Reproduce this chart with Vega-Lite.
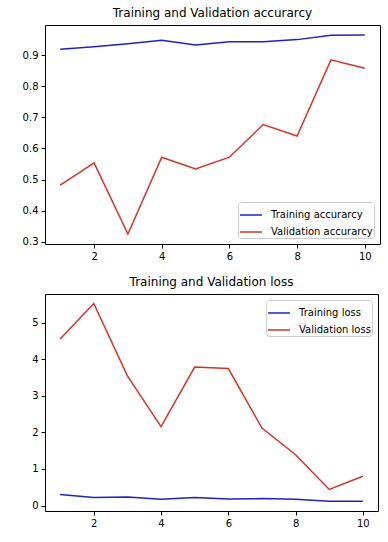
{
  "$schema": "https://vega.github.io/schema/vega-lite/v6.json",
  "background": "white",
  "padding": {"left": 21, "top": 6, "right": 8, "bottom": 4},
  "spacing": 13,
  "config": {
    "font": "DejaVu Sans",
    "view": {"stroke": "#000000", "strokeWidth": 1},
    "axis": {
      "grid": false, "domain": false, "tickColor": "#000", "tickSize": 4,
      "labelFont": "DejaVu Sans", "labelFontSize": 10, "labelColor": "#000",
      "labelPadding": 3, "title": null
    },
    "title": {"font": "DejaVu Sans", "fontSize": 12, "fontWeight": "normal", "color": "#000", "offset": 5},
    "legend": {
      "title": null, "labelFont": "DejaVu Sans", "labelFontSize": 10, "labelColor": "#000",
      "symbolType": "stroke", "symbolStrokeWidth": 1.5, "symbolSize": 484,
      "fillColor": "rgba(255,255,255,0.8)", "strokeColor": "#cccccc", "cornerRadius": 3,
      "padding": 1, "offset": 6, "rowPadding": -1, "labelOffset": 8
    },
    "line": {"strokeWidth": 1.5}
  },
  "datasets": {
    "acc": [
      {"epoch": 1, "series": "Training accurarcy", "value": 0.919},
      {"epoch": 2, "series": "Training accurarcy", "value": 0.927},
      {"epoch": 3, "series": "Training accurarcy", "value": 0.937},
      {"epoch": 4, "series": "Training accurarcy", "value": 0.948},
      {"epoch": 5, "series": "Training accurarcy", "value": 0.933},
      {"epoch": 6, "series": "Training accurarcy", "value": 0.943},
      {"epoch": 7, "series": "Training accurarcy", "value": 0.943},
      {"epoch": 8, "series": "Training accurarcy", "value": 0.950},
      {"epoch": 9, "series": "Training accurarcy", "value": 0.964},
      {"epoch": 10, "series": "Training accurarcy", "value": 0.965},
      {"epoch": 1, "series": "Validation accurarcy", "value": 0.482},
      {"epoch": 2, "series": "Validation accurarcy", "value": 0.554},
      {"epoch": 3, "series": "Validation accurarcy", "value": 0.325},
      {"epoch": 4, "series": "Validation accurarcy", "value": 0.572},
      {"epoch": 5, "series": "Validation accurarcy", "value": 0.534},
      {"epoch": 6, "series": "Validation accurarcy", "value": 0.572},
      {"epoch": 7, "series": "Validation accurarcy", "value": 0.677},
      {"epoch": 8, "series": "Validation accurarcy", "value": 0.640},
      {"epoch": 9, "series": "Validation accurarcy", "value": 0.885},
      {"epoch": 10, "series": "Validation accurarcy", "value": 0.858}
    ],
    "loss": [
      {"epoch": 1, "series": "Training loss", "value": 0.30},
      {"epoch": 2, "series": "Training loss", "value": 0.22},
      {"epoch": 3, "series": "Training loss", "value": 0.23},
      {"epoch": 4, "series": "Training loss", "value": 0.17},
      {"epoch": 5, "series": "Training loss", "value": 0.22},
      {"epoch": 6, "series": "Training loss", "value": 0.18},
      {"epoch": 7, "series": "Training loss", "value": 0.19},
      {"epoch": 8, "series": "Training loss", "value": 0.17},
      {"epoch": 9, "series": "Training loss", "value": 0.12},
      {"epoch": 10, "series": "Training loss", "value": 0.12},
      {"epoch": 1, "series": "Validation loss", "value": 4.56},
      {"epoch": 2, "series": "Validation loss", "value": 5.53},
      {"epoch": 3, "series": "Validation loss", "value": 3.55},
      {"epoch": 4, "series": "Validation loss", "value": 2.16},
      {"epoch": 5, "series": "Validation loss", "value": 3.79},
      {"epoch": 6, "series": "Validation loss", "value": 3.75},
      {"epoch": 7, "series": "Validation loss", "value": 2.12},
      {"epoch": 8, "series": "Validation loss", "value": 1.39},
      {"epoch": 9, "series": "Validation loss", "value": 0.44},
      {"epoch": 10, "series": "Validation loss", "value": 0.80}
    ]
  },
  "vconcat": [
    {
      "title": "Training and Validation accurarcy",
      "width": 335,
      "height": 219,
      "data": {"name": "acc"},
      "mark": {"type": "line", "clip": true},
      "encoding": {
        "x": {"field": "epoch", "type": "quantitative", "scale": {"domain": [0.55, 10.45], "nice": false, "zero": false},
              "axis": {"values": [2, 4, 6, 8, 10]}},
        "y": {"field": "value", "type": "quantitative", "scale": {"domain": [0.293, 0.997], "nice": false, "zero": false},
              "axis": {"values": [0.3, 0.4, 0.5, 0.6, 0.7, 0.8, 0.9], "format": ".1f"}},
        "color": {"field": "series", "type": "nominal",
                  "scale": {"domain": ["Training accurarcy", "Validation accurarcy"], "range": ["#2020c8", "#d63228"]},
                  "legend": {"orient": "bottom-right"}}
      }
    },
    {
      "title": "Training and Validation loss",
      "width": 333,
      "height": 217,
      "data": {"name": "loss"},
      "mark": {"type": "line", "clip": true},
      "encoding": {
        "x": {"field": "epoch", "type": "quantitative", "scale": {"domain": [0.55, 10.45], "nice": false, "zero": false},
              "axis": {"values": [2, 4, 6, 8, 10]}},
        "y": {"field": "value", "type": "quantitative", "scale": {"domain": [-0.15, 5.79], "nice": false, "zero": false},
              "axis": {"values": [0, 1, 2, 3, 4, 5]}},
        "color": {"field": "series", "type": "nominal",
                  "scale": {"domain": ["Training loss", "Validation loss"], "range": ["#2020c8", "#d63228"]},
                  "legend": {"orient": "top-right"}}
      }
    }
  ],
  "resolve": {"scale": {"color": "independent"}, "legend": {"color": "independent"}}
}
